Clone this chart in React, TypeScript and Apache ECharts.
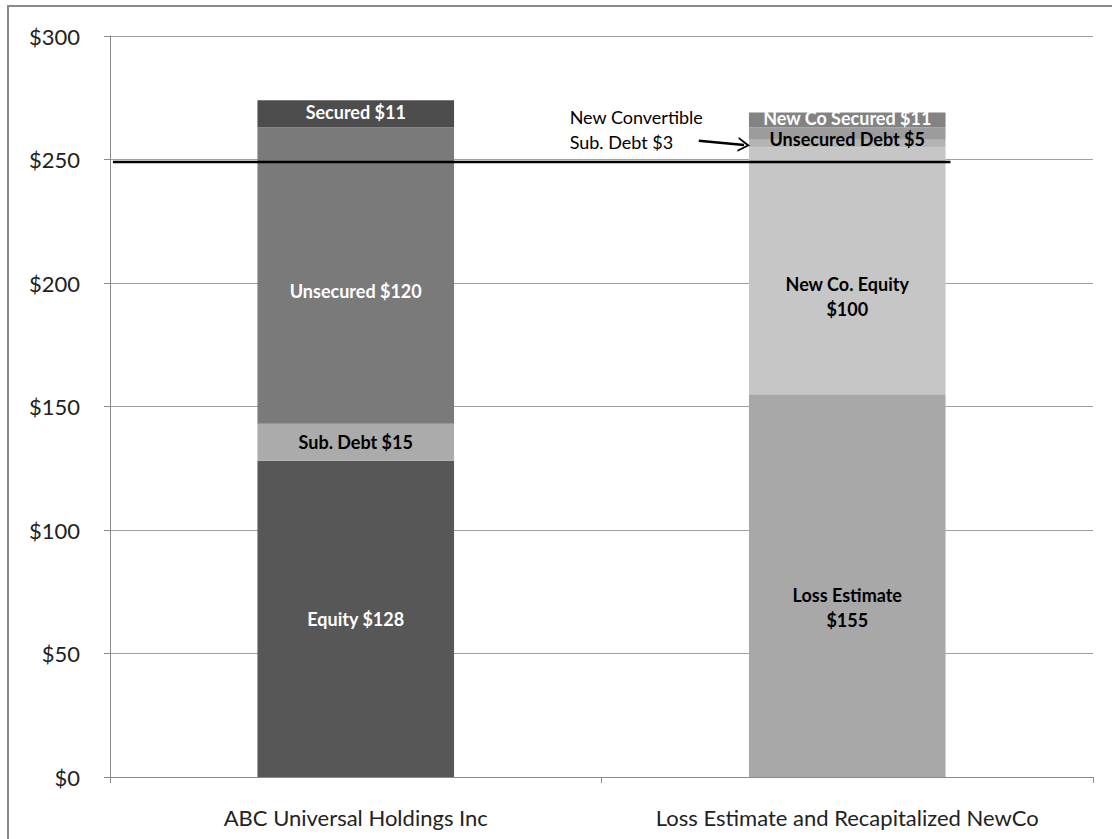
import React, { useEffect, useRef } from "react";
import * as echarts from "echarts";

const categories = ["ABC Universal Holdings Inc", "Loss Estimate and Recapitalized NewCo"];

// bottom to top
const leftValues = [128, 15, 120, 11];
const leftLabels = ["Equity $128", "Sub. Debt $15", "Unsecured $120", "Secured $11"];
const leftColors = ["#575757", "#ababab", "#7a7a7a", "#4d4d4d"];
const leftLabelColors = ["#ffffff", "#000000", "#ffffff", "#ffffff"];
const leftLabelOffsets = [0, 0, 15, -2];

const rightValues = [155, 100, 3, 5, 6];
const rightLabels = ["Loss Estimate\n$155", "New Co. Equity\n$100", "", "Unsecured Debt $5", "New Co Secured $11"];
const rightColors = ["#a8a8a8", "#c6c6c6", "#b4b4b4", "#9c9c9c", "#838383"];
const rightLabelColors = ["#000000", "#000000", "#000000", "#000000", "#ffffff"];
const rightLabelOffsets = [22, 26, 0, 5, -2];

const yTicks = [0, 50, 100, 150, 200, 250, 300];
const thresholdValue = 249;
const thresholdSpan = [0.006, 1.71];
const arrowFrom = [1.198, 257.6];
const arrowTo = [1.29, 255.9];
const noteText = "New Convertible\nSub. Debt $3";
const notePos = [0.925, 262];

const FONT = "Lato, 'Open Sans', sans-serif";

export default function App() {
  const ref = useRef<HTMLDivElement>(null);
  useEffect(() => {
    document.body.style.margin = "0";
    const chart = echarts.init(ref.current!, null, { renderer: "svg" });
    const mk = (vals: number[], labels: string[], colors: string[], lc: string[], offs: number[], idx: number) =>
      vals.map((v, i) => ({
        name: "s" + idx + "_" + i,
        type: "bar",
        stack: "total",
        xAxisIndex: 0,
        yAxisIndex: 0,
        barWidth: "40%",
        data: categories.map((_, c) => (c === idx ? v : null)),
        itemStyle: { color: colors[i] },
        label: {
          show: labels[i] !== "",
          position: "inside",
          formatter: labels[i],
          color: lc[i],
          fontFamily: FONT,
          fontWeight: "bold",
          fontSize: 18,
          lineHeight: 25,
          offset: [0, offs[i]],
        },
        silent: true,
      }));
    const series: any[] = [
      ...mk(leftValues, leftLabels, leftColors, leftLabelColors, leftLabelOffsets, 0),
      ...mk(rightValues, rightLabels, rightColors, rightLabelColors, rightLabelOffsets, 1),
      {
        type: "line",
        xAxisIndex: 1,
        yAxisIndex: 0,
        symbol: "none",
        data: thresholdSpan.map((x) => [x, thresholdValue]),
        lineStyle: { color: "#000", width: 2.5 },
        z: 5,
        markLine: {
          silent: true,
          symbol: ["none", "path://M0,14 L7,0 L14,14 L12,14 L7,4 L2,14 Z"],
          symbolSize: [15, 12],
          lineStyle: { color: "#000", width: 2.5, type: "solid" },
          label: { show: false },
          data: [[{ coord: arrowFrom }, { coord: arrowTo }]],
        },
        markPoint: {
          symbol: "circle",
          symbolSize: 0,
          silent: true,
          label: {
            show: true,
            position: "right",
            formatter: noteText,
            color: "#000",
            fontFamily: FONT,
            fontSize: 18,
            lineHeight: 25,
            align: "left",
          },
          data: [{ coord: notePos }],
        },
      },
    ];
    chart.setOption({
      animation: false,
      grid: { left: 110, right: 19, top: 36, bottom: 62 },
      graphic: [
        {
          type: "rect",
          shape: { x: 8, y: 6, width: 1130, height: 860 },
          style: { fill: "none", stroke: "#8a8a8a", lineWidth: 2 },
          silent: true,
        },
      ],
      xAxis: [
        {
          type: "category",
          data: categories,
          axisLine: { lineStyle: { color: "#8a8a8a" } },
          axisTick: { show: true, length: 6, lineStyle: { color: "#8a8a8a" } },
          axisLabel: { color: "#222", fontSize: 22, fontFamily: FONT, margin: 29, interval: 0 },
        },
        { type: "value", min: 0, max: 2, show: false },
      ],
      yAxis: [
        {
          type: "value",
          min: yTicks[0],
          max: yTicks[yTicks.length - 1],
          interval: 50,
          axisLine: { show: true, lineStyle: { color: "#8a8a8a" } },
          axisTick: { show: true, length: 6, lineStyle: { color: "#8a8a8a" } },
          splitLine: { lineStyle: { color: "#a0a0a0", width: 1 } },
          axisLabel: { color: "#222", fontSize: 22, fontFamily: FONT, margin: 30, formatter: (v: number) => "$" + v },
        },
      ],
      series,
    });
    return () => chart.dispose();
  }, []);
  return <div ref={ref} style={{ width: 1112, height: 839 }} />;
}
